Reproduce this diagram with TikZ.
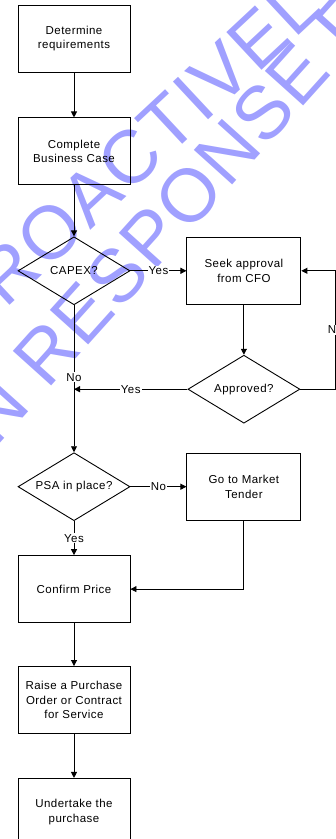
\documentclass[tikz,border=0pt]{standalone}
\usepackage{fontspec}
\setmainfont{Liberation Sans}[LetterSpace=4]
\newfontfamily\wmfont{Liberation Sans}[LetterSpace=2]
\usepackage{tikz}
\usetikzlibrary{positioning}
\usetikzlibrary{shapes}
\usetikzlibrary{arrows.meta}
\tikzstyle{Box} = [rectangle,draw=black,minimum width=112pt,minimum height=67pt,align=center,inner sep=0pt]
\tikzstyle{Dec} = [diamond,draw=black,aspect=1.65,minimum width=112pt,minimum height=68pt,inner sep=0pt]
\tikzstyle{Lbl} = [fill=white,inner sep=1pt]
\tikzstyle{Wm} = [text=wmblue,inner sep=0pt,font=\wmfont\fontsize{75}{75}\selectfont]
\tikzset{>={Triangle[length=6pt,width=6pt]}}
\usepackage{xcolor}
\definecolor{wmblue}{RGB}{160,160,255}

\begin{document}
\begin{tikzpicture}[x=1pt,y=-1pt,line width=0.9pt,font=\fontsize{11.5}{14.5}\selectfont]
  \useasboundingbox (0,0) rectangle (336,839);

  \node [Wm,rotate=43] (w1) at (146,143) {PROACTIVELY};
  \node [Wm,rotate=48] (w2) at (161,226) {IN RESPONSE F};

  \node [Box] (n1) at (74,38.5) {Determine\\requirements};
  \node [Box,below=45pt of n1] (n2) {Complete\\Business Case};
  \node [Dec,below=51pt of n2] (n3) {CAPEX?};
  \node [Box,minimum width=114pt,right=56pt of n3] (n4) {Seek approval\\from CFO};
  \node [Dec,below=50pt of n4] (n5) {Approved?};

  \draw [->] (n1) -- (n2);
  \draw [->] (n2) -- (n3);
  \draw [->] (n3) -- (n4) node [midway,Lbl] {Yes};
  \draw [->] (n4) -- (n5);
  \draw [->] (n5.east) -- ++(35,0) |- (n4.east) node [pos=0.25,Lbl] {No};

  \node [Dec,below=147pt of n3] (n6) {PSA in place?};
  \node [Box,minimum width=114pt,right=56pt of n6] (n7) {Go to Market\\Tender};
  \node [Box,below=34pt of n6] (n8) {Confirm Price};
  \node [Box,below=43pt of n8] (n9) {Raise a Purchase\\Order or Contract\\for Service};
  \node [Box,below=44pt of n9] (n10) {Undertake the\\purchase};

  \coordinate (j1) at (n3 |- n5);
  \draw (n3) -- (j1) node [pos=0.86,Lbl] {No};
  \draw [->] (n5) -- (j1) node [midway,Lbl] {Yes};
  \draw [->] (j1) -- (n6);

  \draw [->] (n6) -- (n7) node [midway,Lbl] {No};
  \draw [->] (n6) -- (n8) node [midway,Lbl] {Yes};
  \draw [->] (n7) |- (n8);
  \draw [->] (n8) -- (n9);
  \draw [->] (n9) -- (n10);

\end{tikzpicture}
\end{document}
